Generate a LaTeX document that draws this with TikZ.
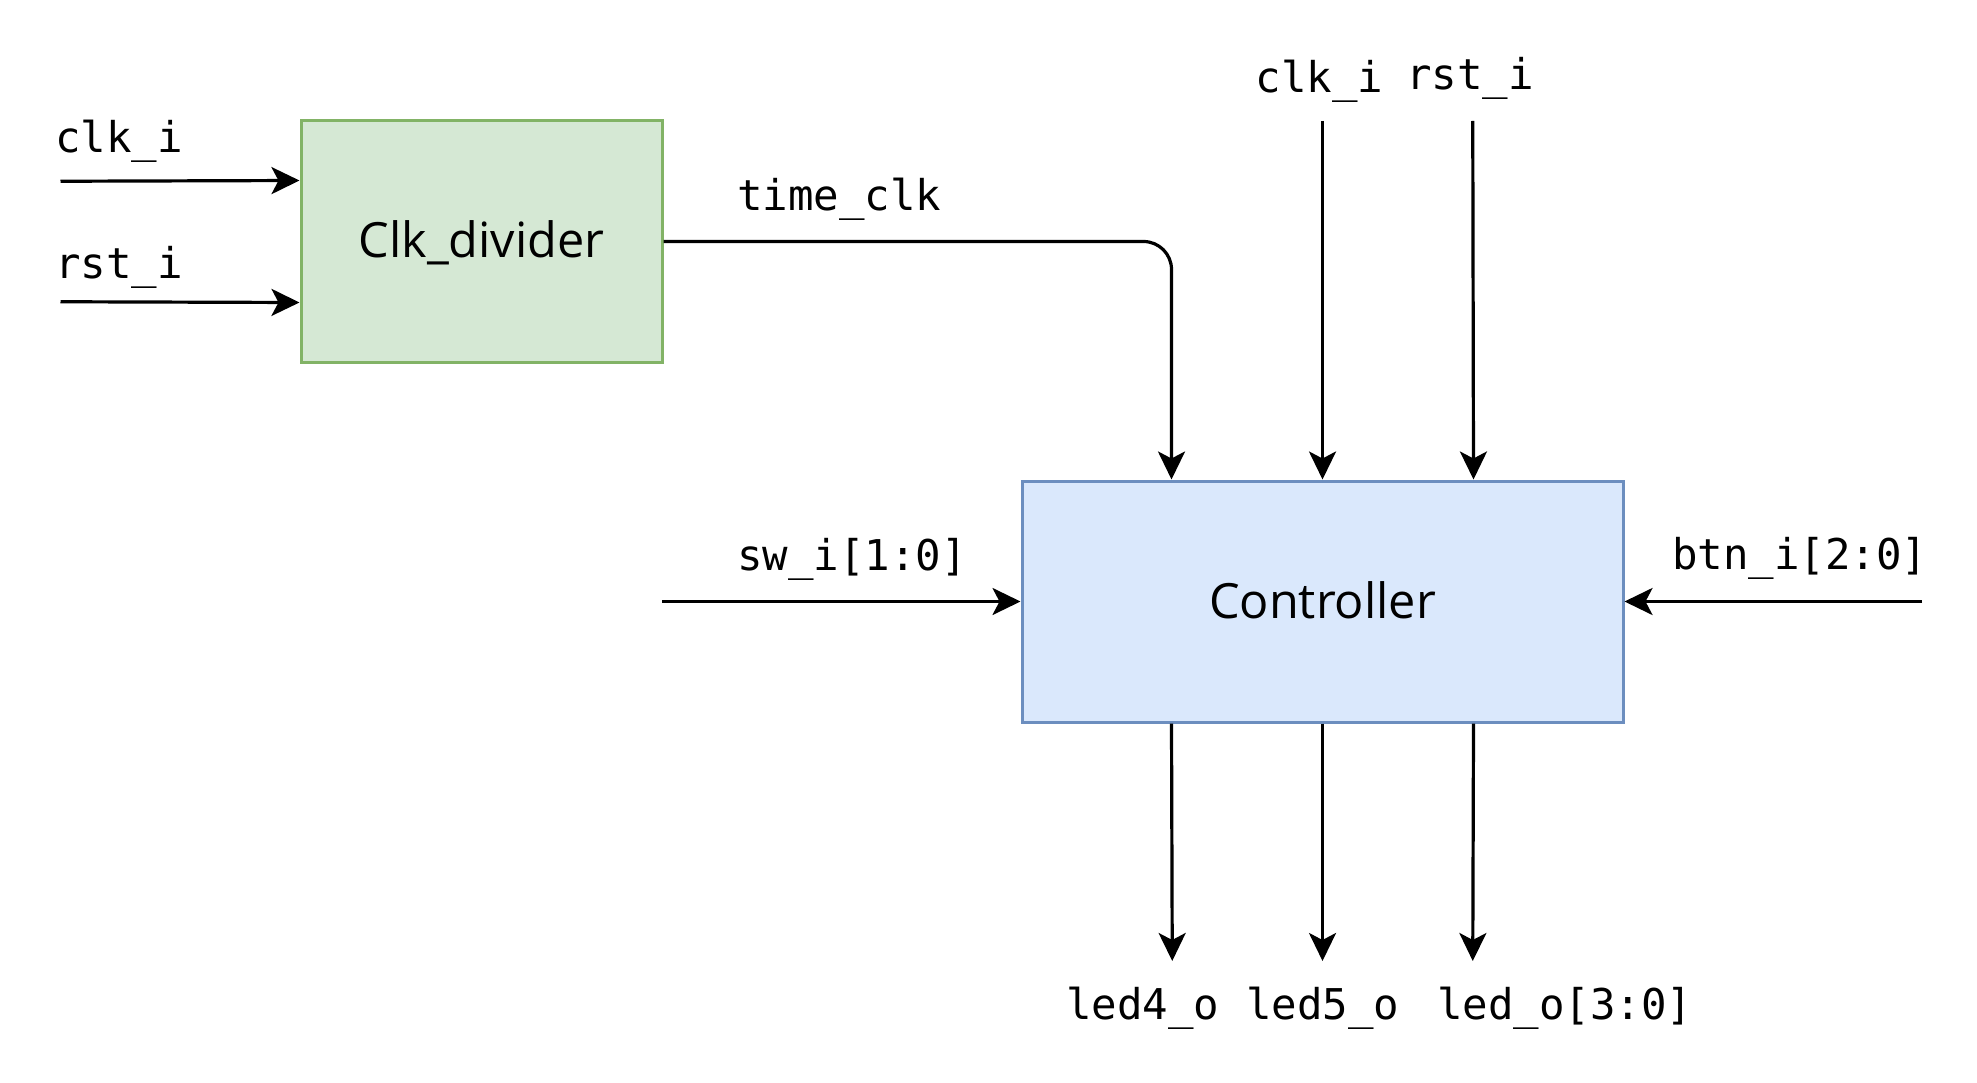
\documentclass[tikz,border=0pt]{standalone}
\usepackage{fontspec}
\setmainfont{Open Sans}
\newfontfamily\monof{DejaVu Sans Mono}
\usetikzlibrary{arrows.meta,calc}
\definecolor{gfill}{HTML}{D5E8D4}
\definecolor{gdraw}{HTML}{82B366}
\definecolor{bfill}{HTML}{DAE8FC}
\definecolor{bdraw}{HTML}{6C8EBF}
\begin{document}
\begin{tikzpicture}[x=1pt,y=-1pt,
  wire/.style={line width=3.2pt, -{Stealth[length=28pt,width=27pt,inset=7pt]}},
  lbl/.style={font=\monof\fontsize{42.4}{42.4}\selectfont, inner sep=0, anchor=base west},
  blk/.style={line width=3pt, inner sep=0, font=\fontsize{48.6}{48.6}\selectfont, text height=33pt, text depth=0pt}]
\useasboundingbox (0,0) rectangle (1977,1083);
\fill[white] (0,0) rectangle (1977,1083);
% blocks
\node[blk, draw=gdraw, fill=gfill, minimum width=361pt, minimum height=241pt] (clk) at (481.5,241.5) {Clk\_divider};
\node[blk, draw=bdraw, fill=bfill, minimum width=601pt, minimum height=241pt] (ctl) at (1322.5,601.5) {Controller};
% free ends
\coordinate (clkin) at (60.5,181.25);
\coordinate (rstin) at (60.5,301.75);
\coordinate (tclk) at (1322.5,121);
\coordinate (trst) at (1472.75,121);
\coordinate (swin) at (662,601.5);
\coordinate (btnin) at (1922,601.5);
\coordinate (o1) at (1172.25,961);
\coordinate (o2) at (1322.5,961);
\coordinate (o3) at (1472.75,961);
% connectors
\draw[wire] (clkin) -- ($(clk.north west)!0.25!(clk.south west)$);
\draw[wire] (rstin) -- ($(clk.north west)!0.75!(clk.south west)$);
\draw[wire, rounded corners=28pt] (clk.east) -| ($(ctl.north west)!0.25!(ctl.north east)$);
\draw[wire] (tclk) -- (ctl.north);
\draw[wire] (trst) -- ($(ctl.north west)!0.75!(ctl.north east)$);
\draw[wire] (swin) -- (ctl.west);
\draw[wire] (btnin) -- (ctl.east);
\draw[wire] ($(ctl.south west)!0.25!(ctl.south east)$) -- (o1);
\draw[wire] (ctl.south) -- (o2);
\draw[wire] ($(ctl.south west)!0.75!(ctl.south east)$) -- (o3);
% labels
\node[lbl] (lclk) at (55,152.7) {clk\_i};
\node[lbl] (lrst) at (55,279) {rst\_i};
\node[lbl] (ltime) at (737,211) {time\_clk};
\node[lbl] (ltclk) at (1255.5,92.7) {clk\_i};
\node[lbl] (ltrst) at (1406,90) {rst\_i};
\node[lbl] (lsw) at (737,570) {sw\_i[1:0]};
\node[lbl] (lbtn) at (1672,569) {btn\_i[2:0]};
\node[lbl] (l4) at (1066,1019) {led4\_o};
\node[lbl] (l5) at (1246,1019) {led5\_o};
\node[lbl] (lo) at (1437,1019) {led\_o[3:0]};
\end{tikzpicture}
\end{document}
